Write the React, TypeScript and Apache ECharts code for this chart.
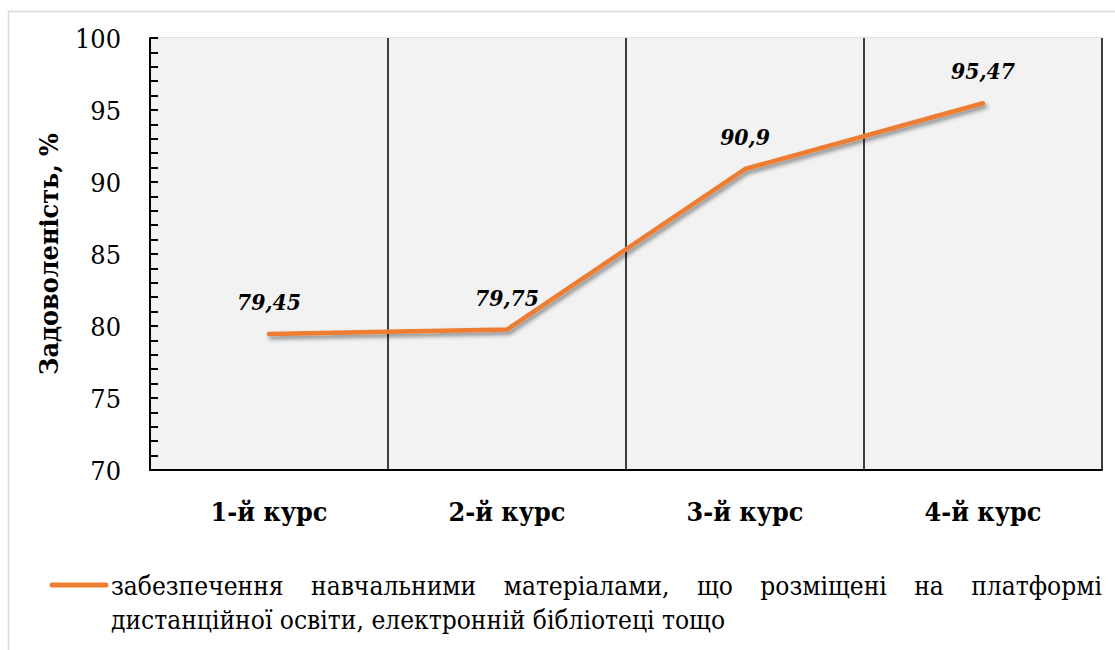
import React, { useEffect, useRef } from "react";
import * as echarts from "echarts";

const categories = ["1-й курс", "2-й курс", "3-й курс", "4-й курс"];
const satisfaction = [79.45, 79.75, 90.9, 95.47];
const seriesName =
  "забезпечення навчальними матеріалами, що розміщені на платформі дистанційної освіти, електронній бібліотеці тощо";
const legendLine1 = ["забезпечення", "навчальними", "матеріалами,", "що", "розміщені", "на", "платформі"];
const legendLine2 = "дистанційної освіти, електронній бібліотеці тощо";
const yAxisTitle = "Задоволеність, %";

const FONT = "DejaVu Serif Condensed";
const ORANGE = "#ed7d31";

function measure(text: string, size: number, weight = "normal", style = "normal"): number {
  const c = document.createElement("canvas").getContext("2d");
  if (!c) return text.length * size * 0.5;
  c.font = `${style} ${weight} ${size}px "${FONT}"`;
  return c.measureText(text).width;
}
function fit(text: string, target: number, weight = "normal", style = "normal"): number {
  const w = measure(text, 100, weight, style);
  return Math.round((target / w) * 100 * 10) / 10;
}

export default function App() {
  const ref = useRef<HTMLDivElement>(null);
  useEffect(() => {
    if (!ref.current) return;
    const chart = echarts.init(ref.current, null, { renderer: "svg" });

    const legendSize = fit(legendLine2, 614);
    const yLabelSize = fit("100", 46);
    const xLabelSize = fit(categories[0], 117, "bold");
    const dataLabelSize = fit("79,45", 64, "bold", "italic");
    const nameSize = fit(yAxisTitle, 242, "bold");

    const lineStart = 111;
    const lineEnd = 1102;
    const widths = legendLine1.map((w) => measure(w, legendSize));
    const total = widths.reduce((a, b) => a + b, 0);
    const gap = (lineEnd - lineStart - total) / (legendLine1.length - 1);
    const legendTextStyle = {
      fontFamily: FONT,
      fontSize: legendSize,
      fontWeight: "normal",
      color: "#000",
    };
    let xPos = lineStart;
    const titles: any[] = legendLine1.map((w, i) => {
      const t = {
        text: w,
        left: xPos,
        top: 587 - legendSize / 2 - 1,
        padding: 0,
        textStyle: legendTextStyle,
      };
      xPos += widths[i] + gap;
      return t;
    });
    titles.push({
      text: legendLine2,
      left: lineStart,
      top: 621 - legendSize / 2 - 1,
      padding: 0,
      textStyle: legendTextStyle,
    });

    chart.setOption({
      animation: false,
      backgroundColor: "#ffffff",
      title: titles,
      grid: { left: 150, right: 13, top: 38, bottom: 180 },
      xAxis: {
        type: "category",
        data: categories,
        boundaryGap: true,
        axisLine: { lineStyle: { color: "#000", width: 2 } },
        axisTick: { show: false },
        splitLine: { show: true, lineStyle: { color: "#000", width: 1.5 } },
        splitArea: { show: true, areaStyle: { color: ["#f2f2f2", "#f2f2f2"] } },
        axisLabel: {
          color: "#000",
          fontFamily: FONT,
          fontWeight: "bold",
          fontSize: xLabelSize,
          margin: 28,
        },
      },
      yAxis: {
        type: "value",
        min: 70,
        max: 100,
        interval: 5,
        name: yAxisTitle,
        nameLocation: "middle",
        nameGap: 88,
        nameTextStyle: { color: "#000", fontFamily: FONT, fontWeight: "bold", fontSize: nameSize },
        axisLine: { show: true, lineStyle: { color: "#000", width: 2 } },
        axisTick: { show: true, inside: true, length: 8, lineStyle: { color: "#000", width: 2 } },
        minorTick: { show: true, splitNumber: 5, length: 8, lineStyle: { color: "#000", width: 2 } },
        splitLine: { show: true, lineStyle: { color: "#d9d9d9", width: 1.5 } },
        axisLabel: { color: "#000", fontFamily: FONT, fontSize: yLabelSize, margin: 29 },
      },
      series: [
        {
          name: seriesName,
          type: "line",
          data: satisfaction,
          showSymbol: true,
          symbol: "circle",
          symbolSize: 1,
          itemStyle: { color: ORANGE },
          z: 3,
          lineStyle: {
            color: ORANGE,
            width: 4.5,
            cap: "round",
            join: "round",
            shadowColor: "rgba(0,0,0,0.45)",
            shadowBlur: 4,
            shadowOffsetX: 2,
            shadowOffsetY: 3,
          },
          label: {
            show: true,
            position: "top",
            distance: 20,
            color: "#000",
            fontFamily: FONT,
            fontWeight: "bold",
            fontStyle: "italic",
            fontSize: dataLabelSize,
            formatter: (p: any) => String(p.value).replace(".", ","),
          },
        },
      ],
      graphic: [
        {
          type: "rect",
          shape: { x: 8.5, y: 11.5, width: 1200, height: 700 },
          style: { fill: "none", stroke: "#d9d9d9", lineWidth: 1.5 },
          z: -10,
          silent: true,
        },
        {
          type: "line",
          shape: { x1: 52, y1: 585, x2: 106, y2: 585 },
          style: { stroke: ORANGE, lineWidth: 5, lineCap: "round" },
        },
      ],
    });
    return () => chart.dispose();
  }, []);
  return <div ref={ref} style={{ position: "fixed", left: 0, top: 0, width: 1115, height: 650 }} />;
}
